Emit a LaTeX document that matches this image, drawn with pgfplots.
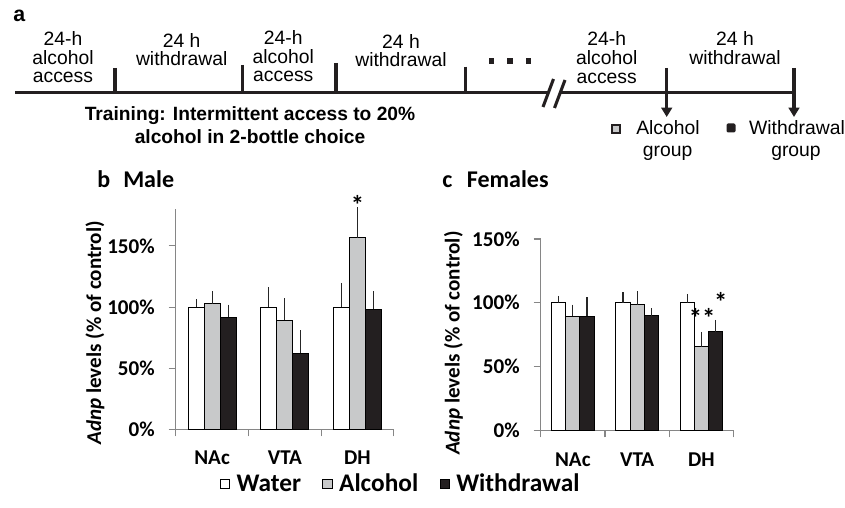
\documentclass[border=0pt]{standalone}
\usepackage{pgfplots}
\pgfplotsset{compat=1.18}
\usepackage{fontspec}
\setmainfont{Carlito}
\newfontfamily\arial{Liberation Sans}
\usetikzlibrary{arrows.meta}
\definecolor{barGray}{RGB}{200,201,202}
\definecolor{barBlack}{RGB}{35,31,32}
\definecolor{axGray}{RGB}{134,134,134}
\newcommand\tlfont{\arial\fontsize{14.5}{14}\selectfont}
\newcommand\tl[3]{\node[font=\tlfont,anchor=base,inner sep=0pt] at (#1,#2) {#3};}
\newcommand\cfont{\fontsize{15.8}{16}\selectfont\bfseries}

\pgfplotsset{
 mybar/.style={
  scale only axis, ybar, bar width=0.22, xmin=-0.5, xmax=2.5, ymin=0,
  clip=false,
  axis lines*=left, axis line style={axGray, line width=0.8pt},
  xtick={-0.5,0.5,1.5,2.5}, xticklabels={},
  extra x ticks={0,1,2}, extra x tick labels={NAc,VTA,DH},
  extra x tick style={major tick length=0pt},
  major tick length=5.25pt, tick align=outside,
  tick style={axGray, line width=0.8pt},
  ytick={0,50,100,150}, yticklabels={0\%,50\%,100\%,150\%},
  ticklabel style={font=\cfont},
  xticklabel style={yshift=-13pt},
  yticklabel style={xshift=-7pt},
  ylabel={\textit{Adnp} levels (\% of control)},
  ylabel style={font=\cfont, anchor=center},
  every axis plot/.append style={draw=black, line width=0.75pt},
  error bars/y dir=plus, error bars/y explicit,
  error bars/error bar style={black!85, line width=0.8pt},
  error bars/error mark options={black!85, line width=0.8pt, mark size=2.8pt},
 }
}

\begin{document}
\begin{tikzpicture}
\useasboundingbox (0,0) rectangle (633.75pt,380.25pt);
\begin{scope}[x=0.75pt,y=-0.75pt,yshift=380.25pt]
 % panel a: timeline
 \node[font=\arial\fontsize{16}{16}\selectfont\bfseries,anchor=base west,inner sep=0pt] at (13,21.7) {a};
 \draw[line width=2.3pt, barBlack] (15,92.7) -- (548,92.7);
 \draw[line width=2.3pt, barBlack] (560,92.7) -- (795,92.7);
 \draw[line width=2.3pt, barBlack] (543,107) -- (553.5,79);
 \draw[line width=2.3pt, barBlack] (554.5,108) -- (565,80);
 \foreach \xx/\yy in {115/68, 242.7/65, 336/63, 465.7/66.7}
   \draw[line width=2.3pt, barBlack] (\xx,\yy) -- (\xx,92.7);
 \draw[line width=2.3pt, barBlack, -{Triangle[width=8pt,length=7pt]}] (666.7,68) -- (666.7,117);
 \draw[line width=2.3pt, barBlack, -{Triangle[width=8pt,length=7pt]}] (794,68) -- (794,117);
 \foreach \xx in {491.5,510,528.5}
   \fill[barBlack] (\xx-2.8,61-2.8) rectangle (\xx+2.8,61+2.8);
 \tl{63}{46}{24-h}\tl{63}{64.3}{alcohol}\tl{63}{82.6}{access}
 \tl{181.7}{47.7}{24 h}\tl{181.7}{66}{withdrawal}
 \tl{283.3}{45}{24-h}\tl{283.3}{63.3}{alcohol}\tl{283.3}{81.6}{access}
 \tl{401}{48.3}{24 h}\tl{401}{66.6}{withdrawal}
 \tl{606.7}{45.7}{24-h}\tl{606.7}{64.5}{alcohol}\tl{606.7}{83.3}{access}
 \tl{735}{45.7}{24 h}\tl{735}{64.5}{withdrawal}
 \node[font=\arial\fontsize{14.4}{14}\selectfont\bfseries,anchor=base,inner sep=0pt] at (250,120.7) {Training: Intermittent access to 20\%};
 \node[font=\arial\fontsize{14.4}{14}\selectfont\bfseries,anchor=base,inner sep=0pt] at (250,143.3) {alcohol in 2-bottle choice};
 \draw[line width=1.4pt, fill=barGray, draw=barBlack] (612,125.3) rectangle (620,133.3);
 \fill[barBlack, rounded corners=1pt] (726.5,123.5) rectangle (735.5,132.5);
 \tl{668}{135}{Alcohol}\tl{667.7}{156.7}{group}
 \tl{797}{135}{Withdrawal}\tl{796}{156.7}{group}
 % panel titles
 \node[font=\fontsize{18}{18}\selectfont\bfseries,anchor=base west,inner sep=0pt] at (97,187.3) {b};
 \node[font=\fontsize{18}{18}\selectfont\bfseries,anchor=base west,inner sep=0pt] at (123,187.3) {Male};
 \node[font=\fontsize{18}{18}\selectfont\bfseries,anchor=base west,inner sep=0pt] at (442,187.3) {c};
 \node[font=\fontsize{18}{18}\selectfont\bfseries,anchor=base west,inner sep=0pt] at (466.7,187.3) {Females};
\end{scope}

% panel b: males
\begin{axis}[mybar, at={(131.8pt,58.3pt)}, anchor=south west,
  width=163.6pt, height=165pt, ymax=180,
  ylabel style={at={(axis description cs:-0.370,0.438)}},
  legend image code/.code={\draw[#1, draw=black, line width=0.7pt] (0pt,-3.4pt) rectangle (6.8pt,3.4pt);},
  legend style={draw=none, fill=none, legend columns=3, at={(1.033,-0.249)}, anchor=center,
    font=\fontsize{19}{19}\selectfont\bfseries,
    /tikz/every even column/.append style={column sep=14pt}},
  ]
\addplot[fill=white, bar shift=-0.22] coordinates {(0,100) +- (0,3.2) (1,100) +- (0,13.0) (2,100) +- (0,16.8)};
\addplot[fill=barGray, bar shift=0] coordinates {(0,102.6) +- (0,7.1) (1,89.3) +- (0,14.9) (2,156.5) +- (0,22.1)};
\addplot[fill=barBlack, bar shift=0.22] coordinates {(0,91.5) +- (0,7.4) (1,62.3) +- (0,15.6) (2,98.3) +- (0,11.4)};
\legend{\hspace{3pt}Water,\hspace{3pt}Alcohol,\hspace{3pt}Withdrawal}
\node[font=\fontsize{20}{20}\selectfont\bfseries, anchor=base, inner sep=0pt] at (axis cs:2,176) {*};
\end{axis}

% panel c: females
\begin{axis}[mybar, at={(405.5pt,57.5pt)}, anchor=south west,
  width=144.75pt, height=143.5pt, ymax=150,
  ylabel style={at={(axis description cs:-0.4525,0.456)}},
  ]
\addplot[fill=white, bar shift=-0.22] coordinates {(0,100) +- (0,2.4) (1,100) +- (0,5.5) (2,100) +- (0,4.0)};
\addplot[fill=barGray, bar shift=0] coordinates {(0,89.4) +- (0,6.3) (1,98.5) +- (0,7.8) (2,65.6) +- (0,8.6)};
\addplot[fill=barBlack, bar shift=0.22] coordinates {(0,89.4) +- (0,12.2) (1,90.4) +- (0,2.4) (2,77.3) +- (0,6.3)};
\node[font=\fontsize{20}{20}\selectfont\bfseries, anchor=base, inner sep=0pt] at (axis cs:2.01,80.5) {**};
\node[font=\fontsize{20}{20}\selectfont\bfseries, anchor=base, inner sep=0pt] at (axis cs:2.30,93) {*};
\end{axis}
\end{tikzpicture}
\end{document}
